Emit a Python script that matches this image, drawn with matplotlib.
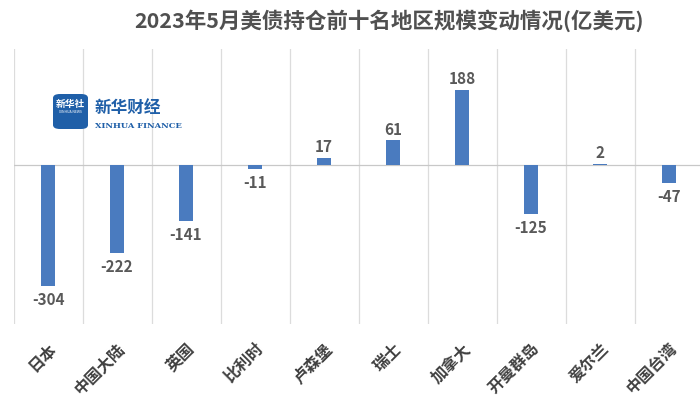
import matplotlib.pyplot as plt
from matplotlib.patches import FancyBboxPatch

plt.rcParams['font.family'] = ['Noto Sans CJK SC', 'DejaVu Sans']

regions = ['日本', '中国大陆', '英国', '比利时', '卢森堡', '瑞士', '加拿大', '开曼群岛', '爱尔兰', '中国台湾']
changes = [-304, -222, -141, -11, 17, 61, 188, -125, 2, -47]

fig = plt.figure(figsize=(7, 4.02), dpi=100)
ax = fig.add_axes([13.5 / 700, 1 - 325 / 402, 690 / 700, 275 / 402])

x = list(range(len(regions)))
ax.bar(x, changes, width=0.19, color='#4a7bbf', zorder=3)

# category separators
for b in range(len(regions) + 1):
    ax.axvline(b - 0.5, color='#dcdcdc', lw=0.9, zorder=1)
ax.axhline(0, color='#c8c8c8', lw=0.9, zorder=2)

for xi, v in zip(x, changes):
    off = 9 if v >= 0 else -12
    ax.text(xi, v + off, str(v), ha='center', va='bottom' if v >= 0 else 'top',
            fontsize=11, color='#595959', fontweight='bold')

ax.set_xlim(-0.5, 9.5)
ax.set_ylim(-400, 290)
ax.set_yticks([])
ax.set_xticks(x)
ax.set_xticklabels(regions, rotation=45, ha='right', rotation_mode='anchor',
                   fontsize=11.5, color='#404040', fontweight='bold')
ax.tick_params(axis='x', length=0, pad=11)
for s in ax.spines.values():
    s.set_visible(False)

fig.text(389 / 700, 1 - 21 / 402, '2023年5月美债持仓前十名地区规模变动情况(亿美元)',
         ha='center', va='center', fontsize=15.5, fontweight='bold', color='#505050')

# watermark logo
logo = FancyBboxPatch((53 / 700, 1 - 130 / 402), 35 / 700, 35 / 402,
                      boxstyle='round,pad=0,rounding_size=0.01',
                      transform=fig.transFigure, facecolor='#1f5fa8', edgecolor='none', zorder=5)
fig.patches.append(logo)
fig.text(70.5 / 700, 1 - 104 / 402, '新华社', ha='center', va='center', fontsize=7,
         color='white', fontweight='bold', zorder=6)
fig.text(70.5 / 700, 1 - 112 / 402, 'XINHUA NEWS', ha='center', va='center', fontsize=2.5,
         color='white', zorder=6)
fig.text(95 / 700, 1 - 108 / 402, '新华财经', ha='left', va='center', fontsize=12,
         color='#1f5fa8', fontweight='bold', style='italic')
fig.text(95 / 700, 1 - 126 / 402, 'XINHUA FINANCE', ha='left', va='center', fontsize=6,
         color='#1f5fa8', fontweight='bold', family='DejaVu Serif')

fig.savefig('out.png', dpi=100)
